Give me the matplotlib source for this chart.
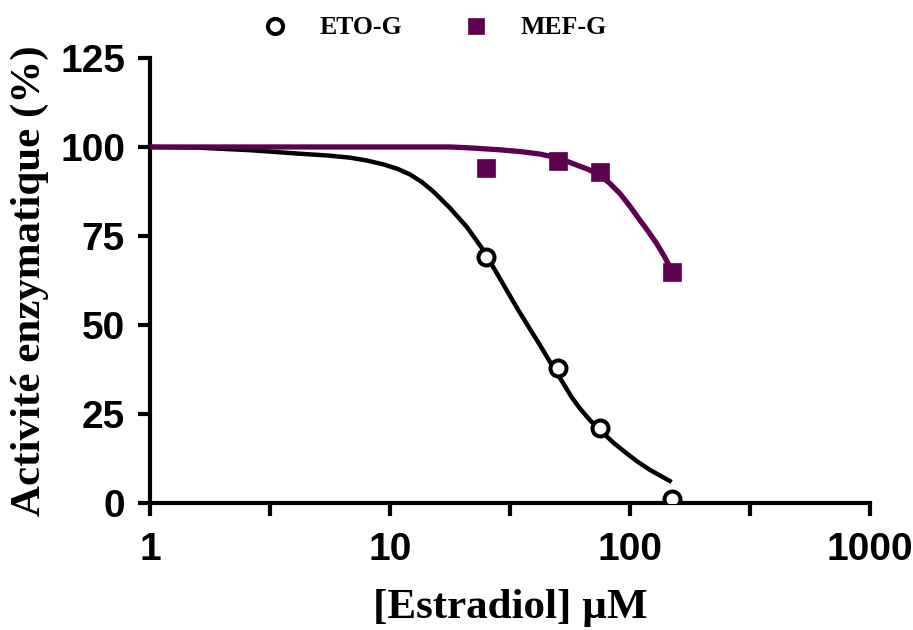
import matplotlib
matplotlib.use('Agg')
import matplotlib.pyplot as plt
from matplotlib.ticker import FixedLocator, NullFormatter

# measured points
conc = [25, 50, 75, 150]
eto_g = [69, 38, 21, 1]
mef_g = [94, 96, 93, 65]

# fitted curves
eto_curve_x = [1, 1.6, 2.61, 4.22, 5.5, 6.81, 8, 9.38, 10.7, 12.1, 13.6, 15.2, 17.8, 20.9, 24.5, 29, 34, 38, 42, 47,
               52.7, 57, 61.9, 68, 75, 85, 96.9, 108, 121, 135, 149]
eto_curve_y = [100, 99.8, 99.1, 98.1, 97.6, 97.0, 96.2, 95.1, 93.9, 92.3, 90.1, 87.4, 82.8, 77.5, 71.0, 62.5, 54.5,
               49.2, 44.5, 39.0, 33.6, 29.8, 26.5, 23.3, 20.5, 17.0, 13.9, 11.5, 9.3, 7.5, 5.9]
mef_curve_x = [1, 5, 10, 17.8, 22, 28.7, 35, 42.2, 49.5, 55, 60, 67, 75, 82, 90.8, 100, 110, 119, 129, 138, 146.8, 150]
mef_curve_y = [100, 100, 100, 100, 99.7, 99.2, 98.7, 98.0, 97.0, 95.9, 94.9, 93.7, 92.0, 89.9, 86.9, 83.3, 79.4,
               76.3, 72.9, 69.6, 66.3, 65.5]

purple = '#5E0050'
tick_font = ['Liberation Sans Narrow', 'Liberation Sans', 'DejaVu Sans']
serif_font = ['Liberation Serif', 'DejaVu Serif']

fig = plt.figure(figsize=(9.13, 6.3), dpi=100)
ax = fig.add_axes([0.1643, 0.2016, 0.953 - 0.1643, 0.908 - 0.2016])

ax.plot(eto_curve_x, eto_curve_y, color='black', lw=3.2, zorder=2, solid_capstyle='butt', solid_joinstyle='round')
ax.plot(mef_curve_x, mef_curve_y, color=purple, lw=3.8, zorder=3, solid_capstyle='butt', solid_joinstyle='round')
ax.plot(conc, eto_g, 'o', ms=11.5, mfc='white', mec='black', mew=2.9, zorder=4, label='ETO-G')
ax.plot(conc, mef_g, 's', ms=12.5, mfc=purple, mec=purple, mew=0.5, zorder=4, label='MEF-G')

ax.set_xscale('log')
ax.set_xlim(1, 1000)
ax.set_ylim(0, 125)
ax.set_xticks([1, 10, 100, 1000])
ax.set_xticklabels(['1', '10', '100', '1000'])
ax.xaxis.set_minor_locator(FixedLocator([10 ** 0.5, 10 ** 1.5, 10 ** 2.5]))
ax.xaxis.set_minor_formatter(NullFormatter())
ax.set_yticks([0, 25, 50, 75, 100, 125])

for s in ['top', 'right']:
    ax.spines[s].set_visible(False)
for s in ['left', 'bottom']:
    ax.spines[s].set_linewidth(3)
ax.spines['bottom'].set_zorder(1)

ax.tick_params(axis='both', which='both', direction='out', width=3, length=9, color='black')
ax.tick_params(axis='x', pad=12)
ax.tick_params(axis='y', pad=9)
for lab in ax.get_xticklabels() + ax.get_yticklabels():
    lab.set_family(tick_font)
    lab.set_fontweight('bold')
    lab.set_fontsize(28)

ax.set_xlabel('[Estradiol] µM', family=serif_font, fontweight='bold', fontsize=31, labelpad=15)
ax.set_ylabel('Activité enzymatique (%)', family=serif_font, fontweight='bold', fontsize=31, labelpad=8)

fig.legend(loc='center left', bbox_to_anchor=(249 / 913, 1 - 28 / 630), ncol=2, frameon=False,
           prop={'family': serif_font, 'weight': 'bold', 'size': 18.5},
           borderpad=0, borderaxespad=0, handlelength=2.0,
           handletextpad=0.75, columnspacing=1.85, markerscale=0.95)

fig.savefig('out.png', dpi=100)
